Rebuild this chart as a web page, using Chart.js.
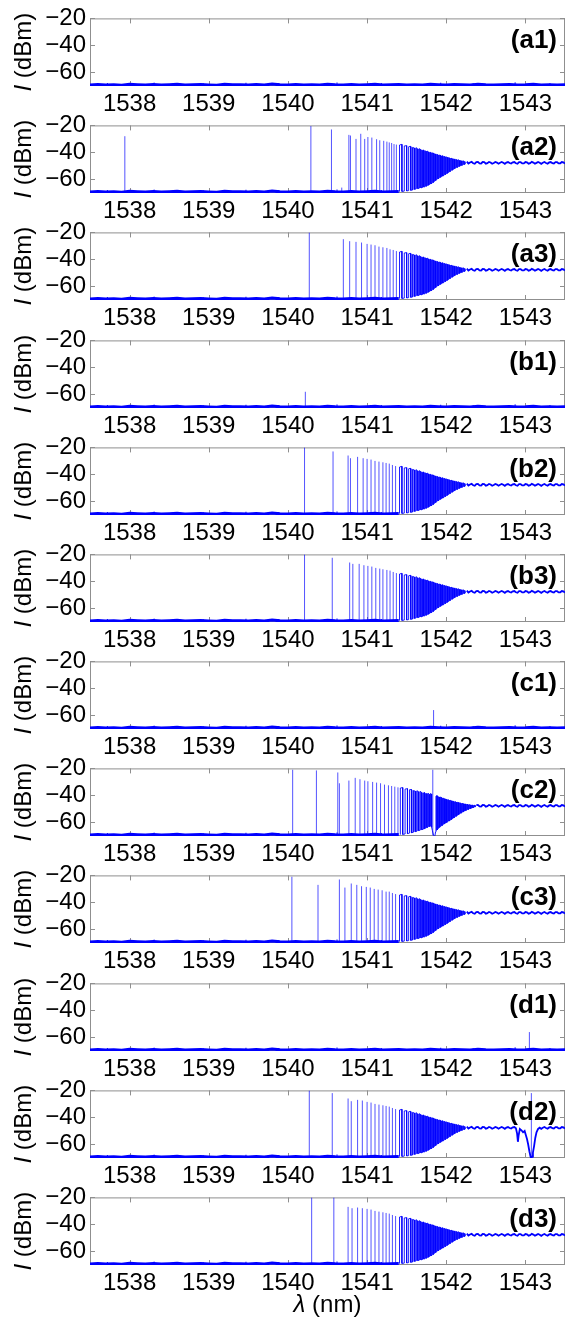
<!DOCTYPE html>
<html>
<head>
<meta charset="utf-8">
<script src="https://cdn.jsdelivr.net/npm/chart.js@4.4.0/dist/chart.umd.min.js"></script>
<style>
html,body{margin:0;padding:0;background:#fff;}
#wrap{position:relative;width:568px;height:1326px;overflow:hidden;background:#fff;}
#wrap canvas{position:absolute;left:0;}
</style>
</head>
<body>
<div id="wrap"></div>
<script>
// ---------------- DATA ----------------
const xTicks = [1538, 1539, 1540, 1541, 1542, 1543];
const yTicks = [-60, -40, -20];
const panelLabels = ['(a1)','(a2)','(a3)','(b1)','(b2)','(b3)','(c1)','(c2)','(c3)','(d1)','(d2)','(d3)'];

// noise floor (nm, dBm)
const floorX = [1537.5,1537.6,1537.7,1537.8,1537.9,1538.0,1538.1,1538.2,1538.3,1538.4,1538.5,1538.6,1538.7,1538.8,1538.9,1539.0,1539.1,1539.2,1539.3,1539.4,1539.5,1539.6,1539.7,1539.8,1539.9,1540.0,1540.1,1540.2,1540.3,1540.4,1540.5,1540.6,1540.7,1540.8,1540.9,1541.0,1541.1,1541.2,1541.3,1541.4,1541.5,1541.6,1541.7,1541.8,1541.9,1542.0,1542.1,1542.2,1542.3,1542.4,1542.5,1542.6,1542.7,1542.8,1542.9,1543.0,1543.1,1543.2,1543.3,1543.4,1543.5];
const floorY = [-69.2,-68.9,-69.3,-69.0,-69.4,-68.8,-69.1,-69.3,-68.9,-69.2,-69.0,-68.7,-69.3,-69.1,-68.9,-69.2,-69.4,-68.8,-69.1,-69.0,-69.3,-68.9,-69.2,-68.6,-69.1,-69.3,-68.9,-69.2,-69.0,-69.3,-68.8,-69.1,-69.2,-68.9,-69.3,-69.0,-68.7,-69.2,-69.1,-68.9,-69.3,-69.0,-69.2,-68.8,-69.1,-69.3,-68.9,-69.0,-69.2,-68.7,-69.1,-69.3,-69.0,-68.9,-69.2,-69.1,-68.8,-69.3,-69.0,-69.2,-69.1];
// small bumps on the floor
const bumpX = [1537.72,1538.31,1538.93,1539.47,1539.88,1540.62,1541.18,1541.93,1542.34,1542.87,1543.31];
const bumpY = [-67.8,-67.5,-68.0,-67.6,-67.9,-67.4,-67.8,-67.6,-67.9,-67.3,-67.8];

// isolated lines per panel
const a1X = [], a1Y = [];
const a2X = [1537.94,1540.29,1540.55,1540.68,1540.77,1540.79,1540.86,1540.92,1540.97,1541.01,1541.06,1541.12,1541.16,1541.21,1541.25,1541.28,1541.31,1541.34,1541.37];
const a2Y = [-28,-20.5,-23,-66,-27,-27.5,-30,-26.2,-30,-28.6,-29,-30.2,-31,-31.4,-32,-32.6,-33,-33.8,-34.2];
const a3X = [1540.27,1540.70,1540.78,1540.86,1540.93,1541.00,1541.05,1541.10,1541.15,1541.20,1541.25,1541.29,1541.33,1541.37];
const a3Y = [-20,-25,-26.5,-27,-27.5,-28.5,-29,-29.5,-30.5,-31,-31.5,-32.5,-33,-33.8];
const b1X = [1540.22], b1Y = [-58];
const b2X = [1540.21,1540.57,1540.76,1540.79,1540.88,1540.95,1541.00,1541.05,1541.10,1541.15,1541.20,1541.24,1541.28,1541.32,1541.36];
const b2Y = [-20,-23,-26,-28,-27,-28,-28.5,-29,-30,-30.5,-31,-31.5,-32,-33,-33.8];
const b3X = [1540.21,1540.56,1540.78,1540.82,1540.90,1540.96,1541.01,1541.06,1541.11,1541.16,1541.20,1541.25,1541.29,1541.33,1541.37];
const b3Y = [-20,-22.5,-26,-27,-27,-28,-28.5,-29,-30,-30.5,-31,-31.5,-32,-33,-33.8];
const c1X = [1541.84], c1Y = [-56];
const c2X = [1540.06,1540.36,1540.63,1540.65,1540.77,1540.85,1540.91,1540.97,1541.01,1541.07,1541.12,1541.17,1541.22,1541.27,1541.31,1541.35,1541.39,1541.83];
const c2Y = [-21,-21.5,-23,-31,-29,-27,-28,-29,-29.5,-30,-30.5,-31,-32,-32.5,-33,-33.5,-34,-21];
const c3X = [1540.05,1540.38,1540.65,1540.72,1540.80,1540.87,1540.93,1540.99,1541.04,1541.09,1541.14,1541.19,1541.24,1541.28,1541.32,1541.36];
const c3Y = [-21,-27,-23,-29,-26,-27,-28,-28.5,-29,-30,-30.5,-31,-32,-32,-33,-33.8];
const d1X = [1543.05], d1Y = [-56];
const d2X = [1540.27,1540.56,1540.76,1540.80,1540.88,1540.94,1541.00,1541.05,1541.10,1541.15,1541.20,1541.24,1541.28,1541.32,1541.36,1543.075];
const d2Y = [-20,-22,-26,-28,-27,-27.5,-28.5,-29,-30,-30.5,-31,-31.5,-32,-33,-33.8,-22];
const d3X = [1540.30,1540.58,1540.76,1540.81,1540.88,1540.94,1541.00,1541.05,1541.10,1541.15,1541.20,1541.24,1541.28,1541.32,1541.36];
const d3Y = [-20,-20,-27,-28,-27.5,-28,-28.5,-29,-30,-30.5,-31,-31.5,-32,-33,-33.8];

// dense comb (shared shape)
const denseX = [1541.41,1541.44,1541.47,1541.50,1541.525,1541.55,1541.575,1541.60,1541.62,1541.64,1541.66,1541.68,1541.70,1541.715,1541.73,1541.745,1541.76,1541.775,1541.79,1541.805,1541.82,1541.835,1541.85,1541.865,1541.88,1541.895,1541.91,1541.925,1541.94,1541.955,1541.97,1541.985,1542.00,1542.015,1542.03,1542.045,1542.06,1542.075,1542.09,1542.105,1542.12,1542.135,1542.15,1542.165,1542.18,1542.195,1542.21,1542.225,1542.24];
const denseTop = [-34.5,-34.0,-35.2,-35.0,-35.8,-35.5,-36.3,-36.8,-36.5,-37.4,-37.2,-38.0,-38.4,-38.2,-38.9,-39.1,-39.0,-39.6,-39.9,-40.0,-40.5,-40.4,-41.0,-41.2,-41.4,-41.8,-42.0,-42.1,-42.6,-42.5,-43.0,-43.2,-43.3,-43.7,-43.8,-44.2,-44.3,-44.6,-44.8,-45.0,-45.1,-45.5,-45.4,-45.9,-46.0,-46.3,-46.2,-46.6,-46.8];
const denseBot = [-69.0,-68.8,-68.6,-68.5,-68.2,-68.0,-67.8,-67.3,-66.9,-66.7,-66.4,-66.2,-65.9,-65.6,-65.4,-65.0,-64.6,-64.2,-63.7,-63.2,-62.8,-62.2,-61.5,-60.8,-60.2,-59.5,-59.0,-58.4,-58.0,-57.5,-57.0,-56.4,-55.9,-55.4,-54.8,-54.2,-53.6,-53.1,-52.6,-52.0,-51.5,-51.1,-50.7,-50.3,-49.9,-49.6,-49.2,-48.9,-48.6];

// c2: comb interrupted by a dip
const c2DenseX = [1541.42,1541.45,1541.48,1541.51,1541.535,1541.56,1541.585,1541.61,1541.63,1541.65,1541.67,1541.69,1541.71,1541.725,1541.74,1541.755,1541.77,1541.785,1541.80,1541.815];
const c2DenseTop = [-34.5,-34.2,-35.3,-35.0,-35.8,-35.6,-36.4,-36.9,-36.5,-37.3,-37.0,-37.8,-38.2,-37.9,-38.5,-38.8,-38.3,-39.2,-38.6,-39.0];
const c2DenseBot = [-69.0,-68.8,-68.5,-68.2,-67.9,-67.6,-67.2,-66.8,-66.4,-66.0,-65.7,-65.3,-65.0,-64.6,-64.2,-63.8,-63.4,-63.0,-62.8,-63.5];
const c2DipX = [1541.825,1541.84,1541.855,1541.865];
const c2DipY = [-66,-69.5,-70.5,-67];
const c2PostX = [1541.870,1541.885,1541.900,1541.915,1541.930,1541.945,1541.960,1541.975,1541.990,1542.005,1542.020,1542.035,1542.050,1542.065,1542.080,1542.095,1542.110,1542.125,1542.140,1542.155,1542.170,1542.185,1542.200,1542.215,1542.230,1542.245,1542.260,1542.275,1542.290,1542.305,1542.320,1542.335,1542.350,1542.365];
const c2PostTop = [-40.5,-40.2,-41.0,-41.3,-41.1,-41.8,-42.0,-42.4,-42.6,-43.0,-43.1,-43.5,-43.6,-44.0,-44.1,-44.5,-44.6,-44.9,-45.1,-45.3,-45.4,-45.8,-45.9,-46.1,-46.3,-46.4,-46.6,-46.8,-46.8,-47.0,-47.1,-47.2,-47.3,-47.4];
const c2PostBot = [-66.5,-65.5,-64.5,-63.6,-63.0,-62.3,-61.7,-61.0,-60.5,-60.0,-59.4,-58.9,-58.4,-57.8,-57.2,-56.6,-56.0,-55.4,-54.8,-54.2,-53.7,-53.1,-52.6,-52.1,-51.6,-51.2,-50.8,-50.4,-50.0,-49.7,-49.4,-49.1,-48.8,-48.6];

// rippled plateau above 1542.25 nm
const plateauX = [1542.26,1542.28,1542.30,1542.32,1542.34,1542.36,1542.38,1542.40,1542.42,1542.44,1542.46,1542.48,1542.50,1542.52,1542.54,1542.56,1542.58,1542.60,1542.62,1542.64,1542.66,1542.68,1542.70,1542.72,1542.74,1542.76,1542.78,1542.80,1542.82,1542.84,1542.86,1542.88,1542.90,1542.92,1542.94,1542.96,1542.98,1543.00,1543.02,1543.04,1543.06,1543.08,1543.10,1543.12,1543.14,1543.16,1543.18,1543.20,1543.22,1543.24,1543.26,1543.28,1543.30,1543.32,1543.34,1543.36,1543.38,1543.40,1543.42,1543.44,1543.46,1543.48,1543.50];
const plateauY = [-46.8,-48.2,-47.4,-46.9,-48.0,-48.3,-47.2,-47.0,-48.1,-48.2,-47.1,-47.2,-48.3,-47.9,-47.0,-47.4,-48.4,-47.8,-47.0,-47.5,-48.3,-47.6,-47.0,-47.7,-48.4,-47.5,-47.1,-47.8,-48.2,-47.3,-47.1,-48.0,-48.3,-47.2,-47.2,-48.1,-48.1,-47.1,-47.3,-48.3,-47.9,-47.0,-47.5,-48.3,-47.7,-47.0,-47.6,-48.4,-47.6,-47.1,-47.8,-48.3,-47.4,-47.1,-47.9,-48.2,-47.2,-47.2,-48.1,-48.0,-47.1,-47.4,-48.2];

// d2: dip near 1543.07 nm
const d2DipX = [1542.88,1542.895,1542.905,1542.915,1542.93,1542.95,1542.97,1542.99,1543.005,1543.02,1543.035,1543.05,1543.065,1543.075,1543.085,1543.095,1543.11,1543.125,1543.14,1543.16];
const d2DipY = [-48.0,-52,-58,-53,-48.5,-49.5,-51,-50,-53,-56,-60,-65,-69,-70.5,-69,-66,-61,-55,-51,-48.5];

// ---------------- BUILD ----------------
const FONT = "'Liberation Sans', Arial, Helvetica, sans-serif";
const BLUE = '#0000ff';
const AXIS = '#8f8f8f';

const panels = [
  {sx:a1X, sy:a1Y, kind:'flat'},
  {sx:a2X, sy:a2Y, kind:'comb'},
  {sx:a3X, sy:a3Y, kind:'comb'},
  {sx:b1X, sy:b1Y, kind:'flat'},
  {sx:b2X, sy:b2Y, kind:'comb'},
  {sx:b3X, sy:b3Y, kind:'comb'},
  {sx:c1X, sy:c1Y, kind:'flat'},
  {sx:c2X, sy:c2Y, kind:'c2'},
  {sx:c3X, sy:c3Y, kind:'comb'},
  {sx:d1X, sy:d1Y, kind:'flat'},
  {sx:d2X, sy:d2Y, kind:'d2'},
  {sx:d3X, sy:d3Y, kind:'comb'}
];

function pts(xs, ys){ const p=[]; const n=Math.min(xs.length, ys.length); for(let i=0;i<n;i++) p.push({x:xs[i], y:ys[i]}); return p; }
function spikes(xs, ys, base){ const p=[]; const n=Math.min(xs.length, ys.length); for(let i=0;i<n;i++){ p.push({x:xs[i],y:base},{x:xs[i],y:ys[i]},{x:xs[i],y:null}); } return p; }
function zigzag(xs, tops, bots){ const p=[]; const n=Math.min(xs.length,tops.length,bots.length); for(let i=0;i<n;i++){ if(i%2===0){ p.push({x:xs[i],y:bots[i]},{x:xs[i],y:tops[i]}); } else { p.push({x:xs[i],y:tops[i]},{x:xs[i],y:bots[i]}); } } return p; }
// closed outline between the upper and lower envelopes, from fromX on
function envelope(xs, tops, bots, fromX){
  const up=[], lo=[];
  for(let i=0;i<xs.length;i++){ if(xs[i] >= fromX){ up.push({x:xs[i], y:tops[i]}); lo.push({x:xs[i], y:bots[i]}); } }
  return up.concat(lo.reverse());
}

function ds(data, width, color){ return {data, borderColor:color || BLUE, borderWidth:width, pointRadius:0, showLine:true, fill:false, tension:0, spanGaps:false, clip:0}; }
function shape(data, alpha){ return {data, borderColor:'rgba(0,0,255,0)', borderWidth:0, backgroundColor:'rgba(0,0,255,' + alpha + ')', pointRadius:0, showLine:true, fill:'shape', tension:0, clip:0}; }

function buildDatasets(p){
  const out = [];
  const combStart = 1541.41;
  let floor = pts(floorX, floorY);
  let bx = bumpX, by = bumpY;
  if (p.kind !== 'flat') {
    floor = floor.filter(q => q.x <= combStart);
    by = bumpY.filter((y,i) => bumpX[i] < combStart - 0.05);
    bx = bumpX.filter(x => x < combStart - 0.05);
  }
  out.push(ds(floor, 3));
  out.push(ds(spikes(bx, by, -69.5), 1));
  out.push(ds(spikes(p.sx, p.sy, -69.5), 0.8, 'rgba(0,0,255,0.85)'));
  let plat = pts(plateauX, plateauY);
  if (p.kind === 'comb' || p.kind === 'd2') {
    out.push(shape(envelope(denseX, denseTop, denseBot, 1541.55), 0.55));
    out.push(ds(zigzag(denseX, denseTop, denseBot), 0.9));
  }
  if (p.kind === 'c2') {
    out.push(shape(envelope(c2DenseX, c2DenseTop, c2DenseBot, 1541.55), 0.5));
    out.push(shape(envelope(c2PostX, c2PostTop, c2PostBot, 1541.87), 0.7));
    const path = zigzag(c2DenseX, c2DenseTop, c2DenseBot).concat(pts(c2DipX, c2DipY), zigzag(c2PostX, c2PostTop, c2PostBot));
    out.push(ds(path, 0.9));
    const last = c2PostX[c2PostX.length-1];
    plat = plat.filter(q => q.x > last);
  }
  if (p.kind === 'd2') {
    const a = d2DipX[0], b = d2DipX[d2DipX.length-1];
    plat = plat.filter(q => q.x < a).concat(pts(d2DipX, d2DipY), plat.filter(q => q.x > b));
  }
  if (p.kind !== 'flat') out.push(ds(plat, 1.8));
  return out;
}

const framePlugin = {
  id: 'frame',
  beforeDatasetsDraw(chart){
    const {ctx, chartArea:a, scales:{x, y}} = chart;
    ctx.save();
    ctx.strokeStyle = AXIS; ctx.lineWidth = 1;
    ctx.strokeRect(a.left + 0.5, a.top + 0.5, a.right - a.left - 1, a.bottom - a.top - 1);
    ctx.beginPath();
    xTicks.forEach(v => {
      const px = Math.round(x.getPixelForValue(v)) + 0.5;
      ctx.moveTo(px, a.top); ctx.lineTo(px, a.top + 5);
      ctx.moveTo(px, a.bottom); ctx.lineTo(px, a.bottom - 5);
    });
    yTicks.forEach(v => {
      const py = Math.round(y.getPixelForValue(v)) + 0.5;
      ctx.moveTo(a.left, py); ctx.lineTo(a.left + 5, py);
      ctx.moveTo(a.right, py); ctx.lineTo(a.right - 5, py);
    });
    ctx.stroke();
    ctx.restore();
  },
  afterDraw(chart, args, opts){
    const {ctx, chartArea:a} = chart;
    ctx.save();
    ctx.fillStyle = '#000';
    // panel label
    ctx.font = 'bold 26px ' + FONT;
    ctx.textAlign = 'right'; ctx.textBaseline = 'middle';
    ctx.fillText(opts.label, 557, a.top + 22);
    // y-axis title: italic I + (dBm)
    const cy = (a.top + a.bottom) / 2;
    ctx.translate(31, cy);
    ctx.rotate(-Math.PI / 2);
    ctx.textAlign = 'left'; ctx.textBaseline = 'alphabetic';
    const f1 = 'italic 24px ' + FONT, f2 = '24px ' + FONT;
    ctx.font = f1; const w1 = ctx.measureText('I').width;
    ctx.font = f2; const w2 = ctx.measureText(' (dBm)').width;
    let sx = -(w1 + w2) / 2;
    ctx.font = f1; ctx.fillText('I', sx, 0);
    ctx.font = f2; ctx.fillText(' (dBm)', sx + w1, 0);
    ctx.setTransform(1, 0, 0, 1, 0, 0);
    if (opts.xTitle) {
      const g1 = 'italic 24px ' + FONT;
      ctx.font = g1; const l1 = ctx.measureText('\u03bb').width;
      ctx.font = f2; const l2 = ctx.measureText(' (nm)').width;
      const cx = (a.left + a.right) / 2;
      const by = a.bottom + 47;
      ctx.textAlign = 'left'; ctx.textBaseline = 'alphabetic';
      ctx.font = g1; ctx.fillText('\u03bb', cx - (l1 + l2) / 2, by);
      ctx.font = f2; ctx.fillText(' (nm)', cx - (l1 + l2) / 2 + l1, by);
    }
    ctx.restore();
  }
};

const wrap = document.getElementById('wrap');
const PERIOD = 107.18;
panels.forEach((p, i) => {
  const top = Math.round(i * PERIOD);
  const isLast = i === panels.length - 1;
  const H = isLast ? 1326 - top : 125;
  const c = document.createElement('canvas');
  c.width = 568; c.height = H;
  c.style.top = top + 'px'; c.style.width = '568px'; c.style.height = H + 'px';
  c.style.zIndex = String(20 - i);
  wrap.appendChild(c);
  new Chart(c, {
    type: 'scatter',
    data: { datasets: buildDatasets(p) },
    options: {
      responsive: false, animation: false, devicePixelRatio: 1,
      events: [],
      layout: { padding: { left: 0, right: 3, top: 16, bottom: 0 } },
      plugins: { legend: { display: false }, tooltip: { enabled: false }, title: { display: false },
        frame: { label: panelLabels[i], xTitle: isLast } },
      scales: {
        x: {
          type: 'linear', min: 1537.5, max: 1543.5,
          afterBuildTicks: s => { s.ticks = xTicks.map(v => ({ value: v })); },
          afterFit: s => { s.height = H - 86; },
          grid: { display: false, drawTicks: false }, border: { display: false },
          ticks: { font: { family: FONT, size: 24 }, color: '#000', padding: 4, maxRotation: 0, autoSkip: false,
            callback: v => String(v) }
        },
        y: {
          type: 'linear', min: -70, max: -20,
          afterBuildTicks: s => { s.ticks = yTicks.map(v => ({ value: v })); },
          afterFit: s => { s.width = 90; },
          grid: { display: false, drawTicks: false }, border: { display: false },
          ticks: { font: { family: FONT, size: 24 }, color: '#000', padding: 4, autoSkip: false,
            callback: v => (v < 0 ? '\u2212' + Math.abs(v) : String(v)) }
        }
      }
    },
    plugins: [framePlugin]
  });
});
</script>
</body>
</html>
